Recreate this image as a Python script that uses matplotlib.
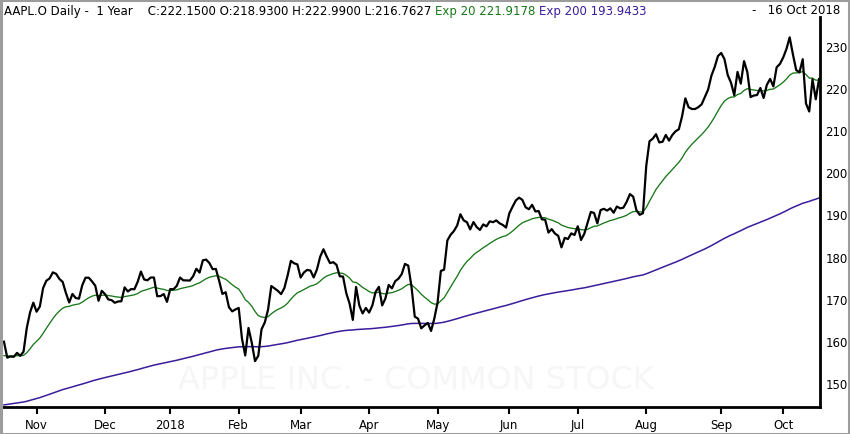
import matplotlib
matplotlib.use('Agg')
import matplotlib.pyplot as plt
from matplotlib.patches import Rectangle
import numpy as np
import pandas as pd

# ---- data: AAPL daily closes, 18 Oct 2017 .. 16 Oct 2018 ----
close_oct17 = [159.76, 155.98, 156.25, 156.17, 157.10, 156.41, 157.41, 163.05, 166.72, 169.04]
close_nov17 = [166.89, 168.11, 172.50, 174.25, 174.81, 176.24, 175.88, 174.67, 173.97, 171.34,
               169.08, 171.10, 170.15, 169.98, 173.14, 174.96, 174.97, 174.09, 173.07, 169.48, 171.85]
close_dec17 = [171.05, 169.80, 169.64, 169.01, 169.32, 169.37, 172.67, 171.70, 172.27, 172.22,
               173.97, 176.42, 174.54, 174.35, 175.01, 175.01, 170.57, 170.60, 171.08, 169.23]
close_jan18 = [172.26, 172.23, 173.03, 175.00, 174.35, 174.33, 174.29, 175.28, 177.09, 176.19,
               179.10, 179.26, 178.46, 177.00, 177.04, 174.22, 171.11, 171.51, 167.96, 166.97, 167.43]
close_feb18 = [167.78, 160.50, 156.49, 163.03, 159.54, 155.15, 156.41, 162.71, 164.34, 167.37,
               172.99, 172.43, 171.85, 171.07, 172.50, 175.50, 178.97, 178.39, 178.12]
close_mar18 = [175.00, 176.21, 176.82, 176.67, 175.03, 176.94, 179.98, 181.72, 179.97, 178.44,
               178.65, 178.02, 175.30, 175.24, 171.27, 168.85, 164.94, 172.77, 168.34, 166.48, 167.78]
close_apr18 = [166.68, 168.39, 171.61, 172.80, 168.38, 170.05, 173.25, 172.44, 174.14, 174.73,
               175.82, 178.24, 177.84, 172.80, 165.72, 165.24, 162.94, 163.65, 164.22, 162.32, 165.26]
close_may18 = [169.10, 176.57, 176.89, 183.83, 185.16, 186.05, 187.36, 190.04, 188.59, 188.15,
               186.44, 188.18, 186.99, 186.31, 187.63, 187.16, 188.36, 188.15, 188.58, 187.90, 187.50, 186.87]
close_jun18 = [190.24, 191.83, 193.31, 193.98, 193.46, 191.70, 191.23, 192.28, 190.70, 190.80,
               188.84, 188.74, 185.69, 186.50, 185.46, 184.92, 182.17, 184.43, 184.16, 185.50, 185.11]
close_jul18 = [187.18, 183.92, 185.40, 187.97, 190.58, 190.35, 187.88, 191.03, 191.33, 190.91,
               191.45, 190.40, 191.88, 191.44, 191.61, 193.00, 194.82, 194.21, 190.98, 189.91, 190.29]
close_aug18 = [201.50, 207.39, 207.99, 209.07, 207.11, 207.25, 208.88, 207.53, 208.87, 209.75,
               210.24, 213.32, 217.58, 215.46, 215.04, 215.05, 215.49, 216.16, 217.94, 219.70,
               222.98, 225.03, 227.63]
close_sep18 = [228.36, 226.87, 223.10, 221.30, 218.33, 223.85, 221.07, 226.41, 223.84, 217.88,
               218.24, 218.37, 220.03, 217.66, 220.79, 222.19, 220.42, 224.95, 225.74]
close_oct18 = [227.26, 229.28, 232.07, 227.99, 224.29, 223.77, 226.87, 216.36, 214.45, 222.11,
               217.36, 222.15]

closes = (close_oct17 + close_nov17 + close_dec17 + close_jan18 + close_feb18 + close_mar18
          + close_apr18 + close_may18 + close_jun18 + close_jul18 + close_aug18 + close_sep18
          + close_oct18)

holidays = ['2017-11-23', '2017-12-25', '2018-01-01', '2018-01-15', '2018-02-19',
            '2018-03-30', '2018-05-28', '2018-07-04', '2018-09-03']
dates = pd.bdate_range('2017-10-18', '2018-10-16')
dates = dates[~dates.isin(pd.to_datetime(holidays))]

ema20_start = 156.1
ema200_start = 144.6

month_labels = ['Nov', 'Dec', '2018', 'Feb', 'Mar', 'Apr', 'May', 'Jun', 'Jul', 'Aug', 'Sep', 'Oct']
y_ticks = [150, 160, 170, 180, 190, 200, 210, 220, 230]

header_main = 'AAPL.O Daily -  1 Year    C:222.1500 O:218.9300 H:222.9900 L:216.7627 '
header_ema20 = 'Exp 20 221.9178 '
header_ema200 = 'Exp 200 193.9433'
header_date = '-   16 Oct 2018'
watermark = 'APPLE INC. - COMMON STOCK'

# ---- averages ----
px = pd.Series(closes, index=dates)


def ema(series, span, start):
    a = 2.0 / (span + 1)
    out = []
    prev = start
    for v in series:
        prev = prev + a * (v - prev)
        out.append(prev)
    return np.array(out)


ema20 = ema(px.values, 20, ema20_start)
ema200 = ema(px.values, 200, ema200_start)
x = np.arange(len(px))

# month start positions
month_pos = [i for i in range(1, len(dates)) if dates[i].month != dates[i - 1].month]

# ---- figure ----
fig = plt.figure(figsize=(8.5, 4.35), dpi=100)
W, H = 850, 435
ax = fig.add_axes([3 / W, (H - 408) / H, (820 - 3) / W, (408 - 18) / H])

GREEN = '#187818'
PURPLE = '#3a1c9c'

ax.text(0.505, 0.07, watermark, transform=ax.transAxes, ha='center', va='center',
        fontsize=23, color='#f6f6f6', zorder=0)

ax.plot(x, ema200, color=PURPLE, lw=1.1, zorder=2)
ax.plot(x, ema20, color=GREEN, lw=0.95, zorder=3)
ax.plot(x, px.values, color='black', lw=1.6, zorder=4)

ax.set_xlim(-0.3, len(x) - 0.7)
ax.set_ylim(144.25, 236.9)

for s in ['top', 'left']:
    ax.spines[s].set_visible(False)
ax.spines['bottom'].set_linewidth(2)
ax.spines['right'].set_linewidth(2)

ax.set_xticks(month_pos)
ax.set_xticklabels(month_labels, fontsize=8.5)
ax.tick_params(axis='x', direction='out', length=5, width=1.5, pad=3)

ax.yaxis.tick_right()
ax.set_yticks(y_ticks)
ax.set_yticklabels([str(v) for v in y_ticks], fontsize=8.5)
ax.tick_params(axis='y', length=0, pad=4)

# ---- header ----
t1 = fig.text(4 / W, 1 - 11 / H, header_main, fontsize=8.5, color='black', va='center', ha='left')
t2 = fig.text(0, 0, header_ema20, fontsize=8.5, color=GREEN, va='center', ha='left')
t3 = fig.text(0, 0, header_ema200, fontsize=8.5, color=PURPLE, va='center', ha='left')
fig.canvas.draw()
r = fig.canvas.get_renderer()
bb1 = t1.get_window_extent(r)
t2.set_position((bb1.x1 / W, 1 - 11 / H))
fig.canvas.draw()
bb2 = t2.get_window_extent(r)
t3.set_position((bb2.x1 / W, 1 - 11 / H))
fig.text(840 / W, 1 - 11 / H, header_date, fontsize=8.5, color='black', va='center', ha='right')

# outer frame
fig.patches.append(Rectangle((0.5 / W, 0.5 / H), (W - 1.5) / W, (H - 1.5) / H,
                             transform=fig.transFigure, fill=False,
                             edgecolor='#9c9c9c', lw=2.2))

fig.savefig('out.png', dpi=100)
